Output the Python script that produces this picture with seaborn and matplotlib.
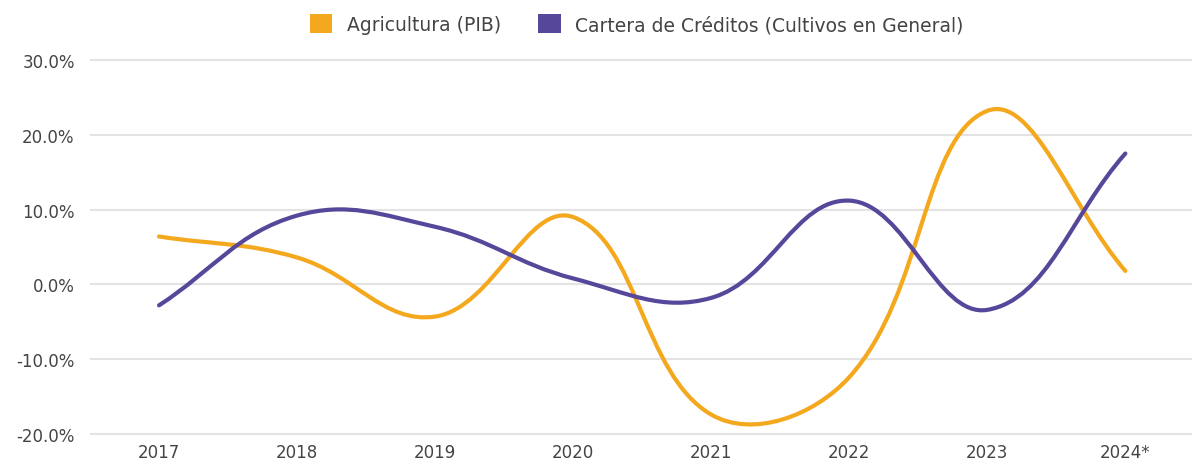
import numpy as np
import pandas as pd
import seaborn as sns
import matplotlib
matplotlib.use("Agg")
import matplotlib.pyplot as plt
from matplotlib.path import Path
from matplotlib.patches import PathPatch, Patch

# Annual growth rates (%)
years = ["2017", "2018", "2019", "2020", "2021", "2022", "2023", "2024*"]
agricultura_pib = [6.4, 3.6, -4.3, 9.0, -17.4, -12.4, 23.2, 1.8]
cartera_creditos = [-2.8, 9.2, 7.7, 0.8, -1.8, 11.2, -3.4, 17.5]

series_names = ["Agricultura (PIB)", "Cartera de Créditos (Cultivos en General)"]
colors = ["#F4A81D", "#56479A"]
y_ticks = [-20, -10, 0, 10, 20, 30]

sns.set_theme(style="white")
plt.rcParams["font.family"] = ["DejaVu Sans"]

df = pd.DataFrame({
    "año": years * 2,
    "pos": list(range(len(years))) * 2,
    "valor": agricultura_pib + cartera_creditos,
    "serie": [series_names[0]] * len(years) + [series_names[1]] * len(years),
})

fig = plt.figure(figsize=(11.92, 4.64), dpi=100)
ax = fig.add_axes([0.0755, 0.0560, 0.9265, 0.8190])

# Invisible seaborn pass sets up the data scales for both series
sns.lineplot(data=df, x="pos", y="valor", hue="serie", palette=colors,
             linewidth=0, legend=False, ax=ax)

ax.set_xlim(-0.5, len(years) - 0.5)
ax.set_ylim(-20.4, 30.4)


def tension_path(ax, x, y, tension=0.4):
    """Cubic Bezier path through the points; control points follow the
    distance-weighted cardinal spline rule, evaluated in screen space."""
    pts = ax.transData.transform(np.column_stack([x, y]))
    n = len(pts)
    cp_before = np.zeros_like(pts)
    cp_after = np.zeros_like(pts)
    for i in range(n):
        prev_p = pts[max(i - 1, 0)]
        cur = pts[i]
        next_p = pts[min(i + 1, n - 1)]
        d01 = np.hypot(*(cur - prev_p))
        d12 = np.hypot(*(next_p - cur))
        tot = d01 + d12
        s01 = d01 / tot if tot else 0.0
        s12 = d12 / tot if tot else 0.0
        cp_before[i] = cur - tension * s01 * (next_p - prev_p)
        cp_after[i] = cur + tension * s12 * (next_p - prev_p)
    inv = ax.transData.inverted()
    pts_d = inv.transform(pts)
    before_d = inv.transform(cp_before)
    after_d = inv.transform(cp_after)
    verts = [tuple(pts_d[0])]
    codes = [Path.MOVETO]
    for i in range(n - 1):
        verts += [tuple(after_d[i]), tuple(before_d[i + 1]), tuple(pts_d[i + 1])]
        codes += [Path.CURVE4] * 3
    return Path(verts, codes)


for name, color in zip(series_names, colors):
    sub = df[df["serie"] == name]
    path = tension_path(ax, sub["pos"].to_numpy(float), sub["valor"].to_numpy(float))
    ax.add_patch(PathPatch(path, facecolor="none", edgecolor=color,
                           linewidth=3.0, capstyle="round", zorder=3))

ax.set_xticks(range(len(years)))
ax.set_xticklabels(years)
ax.set_yticks(y_ticks)
ax.set_yticklabels([f"{v:.1f}%" for v in y_ticks])
ax.set_xlabel("")
ax.set_ylabel("")

ax.grid(axis="y", color="#E3E3E3", linewidth=1.5)
ax.grid(axis="x", visible=False)
for side in ax.spines.values():
    side.set_visible(False)
ax.tick_params(axis="both", length=0, labelsize=12, labelcolor="#444444")
ax.tick_params(axis="y", pad=11)
ax.tick_params(axis="x", pad=4)

handles = [Patch(facecolor=c, edgecolor="none") for c in colors]
fig.legend(handles, series_names, loc="center", bbox_to_anchor=(0.534, 0.946),
           ncol=2, frameon=False, fontsize=13.5, handlelength=1.2,
           handleheight=1.2, handletextpad=0.75, columnspacing=2.0,
           labelcolor="#444444")

fig.savefig("out.png", dpi=100, facecolor="white")
